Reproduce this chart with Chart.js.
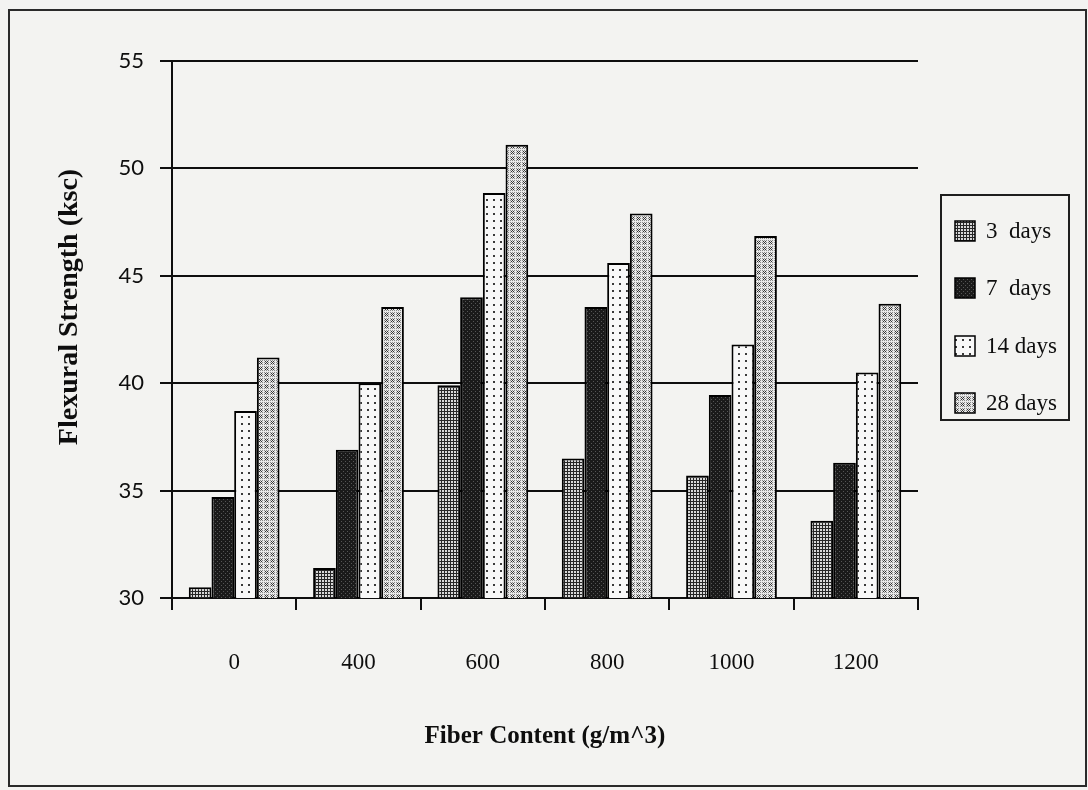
<!DOCTYPE html>
<html>
<head>
<meta charset="utf-8">
<title>Flexural Strength vs Fiber Content</title>
<script src="https://cdn.jsdelivr.net/npm/chart.js@4.4.1/dist/chart.umd.min.js"></script>
<style>
  html,body{margin:0;padding:0;background:#f3f3f1;}
  #wrap{width:1088px;height:790px;position:relative;}
</style>
</head>
<body>
<div id="wrap"><canvas id="chart" width="1088" height="790"></canvas></div>
<script>
// fiber content categories (g/m^3)
const categories = ['0', '400', '600', '800', '1000', '1200'];
// flexural strength (ksc) by curing age
const days3  = [30.5, 31.4, 39.9, 36.5, 35.7, 33.6];
const days7  = [34.7, 36.9, 44.0, 43.55, 39.45, 36.3];
const days14 = [38.7, 40.0, 48.85, 45.6, 41.8, 40.5];
const days28 = [41.2, 43.55, 51.1, 47.9, 46.85, 43.7];
const seriesLabels = ['3  days', '7  days', '14 days', '28 days'];
const yTicks = [30, 35, 40, 45, 50, 55];

const ink = '#0e0e0e';
const serif = '"Liberation Serif", "Times New Roman", serif';

// small tiled fills, like the old printer hatchings
function makePattern(size, draw){
  const c = document.createElement('canvas');
  c.width = c.height = size;
  const g = c.getContext('2d');
  draw(g);
  return g.createPattern(c, 'repeat');
}
const fills = [
  // mesh
  makePattern(3, g=>{
    g.fillStyle = '#d8d8d8'; g.fillRect(0,0,3,3);
    g.fillStyle = '#262626'; g.fillRect(0,0,3,1); g.fillRect(0,0,1,3);
  }),
  // near black with specks
  makePattern(4, g=>{
    g.fillStyle = '#1a1a1a'; g.fillRect(0,0,4,4);
    g.fillStyle = '#555555'; g.fillRect(1,1,1,1); g.fillRect(3,3,1,1);
  }),
  // sparse dots
  makePattern(7, g=>{
    g.fillStyle = '#f8f8f8'; g.fillRect(0,0,7,7);
    g.fillStyle = '#3a3a3a'; g.fillRect(3,3,2,2);
  }),
  // fine dots with small crosses
  makePattern(6, g=>{
    g.fillStyle = '#e8e8e8'; g.fillRect(0,0,6,6);
    g.fillStyle = '#8a8a8a';
    for(let x=0;x<6;x+=2) for(let y=0;y<6;y+=2) g.fillRect(x,y,1,1);
    g.fillStyle = '#333333';
    [[1,1],[3,1],[2,2],[1,3],[3,3]].forEach(p=>g.fillRect(p[0],p[1],1,1));
  })
];

const values = [days3, days7, days14, days28];
const datasets = values.map((v,i)=>({
  label: seriesLabels[i],
  data: v,
  backgroundColor: fills[i],
  borderColor: '#000',
  borderWidth: 2,
  barPercentage: 1.0,
  categoryPercentage: 0.73
}));

// frame, y title and boxed legend on the right
const decor = {
  id: 'decor',
  afterDraw(chart){
    const ctx = chart.ctx;
    ctx.save();
    ctx.strokeStyle = '#2a2a2a';
    ctx.lineWidth = 2;
    ctx.strokeRect(9, 10, 1077, 776);

    // y title
    ctx.fillStyle = ink;
    ctx.font = 'bold 28px ' + serif;
    ctx.textAlign = 'center';
    ctx.textBaseline = 'middle';
    ctx.translate(70, 307);
    ctx.rotate(-Math.PI/2);
    ctx.fillText('Flexural Strength (ksc)', 0, 0);
    ctx.setTransform(1,0,0,1,0,0);

    // legend
    const lx = 941, ly = 195, lw = 128, lh = 225;
    ctx.lineWidth = 2;
    ctx.strokeStyle = '#1e1e1e';
    ctx.strokeRect(lx, ly, lw, lh);
    const rows = [231, 288, 346, 403];
    ctx.font = '23px ' + serif;
    ctx.textAlign = 'left';
    chart.data.datasets.forEach((ds, i)=>{
      const y = rows[i];
      ctx.fillStyle = ds.backgroundColor;
      ctx.fillRect(955, y-10, 20, 20);
      ctx.strokeStyle = '#000';
      ctx.lineWidth = 1.5;
      ctx.strokeRect(955, y-10, 20, 20);
      ctx.fillStyle = ink;
      ctx.fillText(ds.label, 986, y+1);
    });
    ctx.restore();
  }
};

new Chart(document.getElementById('chart'), {
  type: 'bar',
  data: { labels: categories, datasets },
  options: {
    responsive: false,
    animation: false,
    layout: { padding: { left: 0, top: 61, right: 170, bottom: 0 } },
    plugins: { legend: { display: false }, tooltip: { enabled: false } },
    scales: {
      x: {
        afterFit: s => { s.height = 192; },
        grid: { offset: true, drawOnChartArea: false, drawTicks: true, tickLength: 12, color: ink, lineWidth: 2 },
        border: { display: true, color: ink, width: 2 },
        ticks: { color: ink, font: { family: serif, size: 23 }, padding: 39 },
        title: {
          display: true,
          text: 'Fiber Content (g/m^3)',
          color: ink,
          font: { family: serif, size: 25, weight: 'bold' },
          padding: { top: 0, bottom: 38 }
        }
      },
      y: {
        min: 30,
        max: 55,
        afterFit: s => { s.width = 172; },
        afterBuildTicks: s => { s.ticks = yTicks.map(v=>({ value: v })); },
        grid: { color: ink, lineWidth: 2, tickLength: 12 },
        border: { display: true, color: ink, width: 2 },
        ticks: { color: ink, font: { family: 'Lato, "Open Sans", sans-serif', size: 22 }, padding: 16 }
      }
    }
  },
  plugins: [decor]
});
</script>
</body>
</html>
